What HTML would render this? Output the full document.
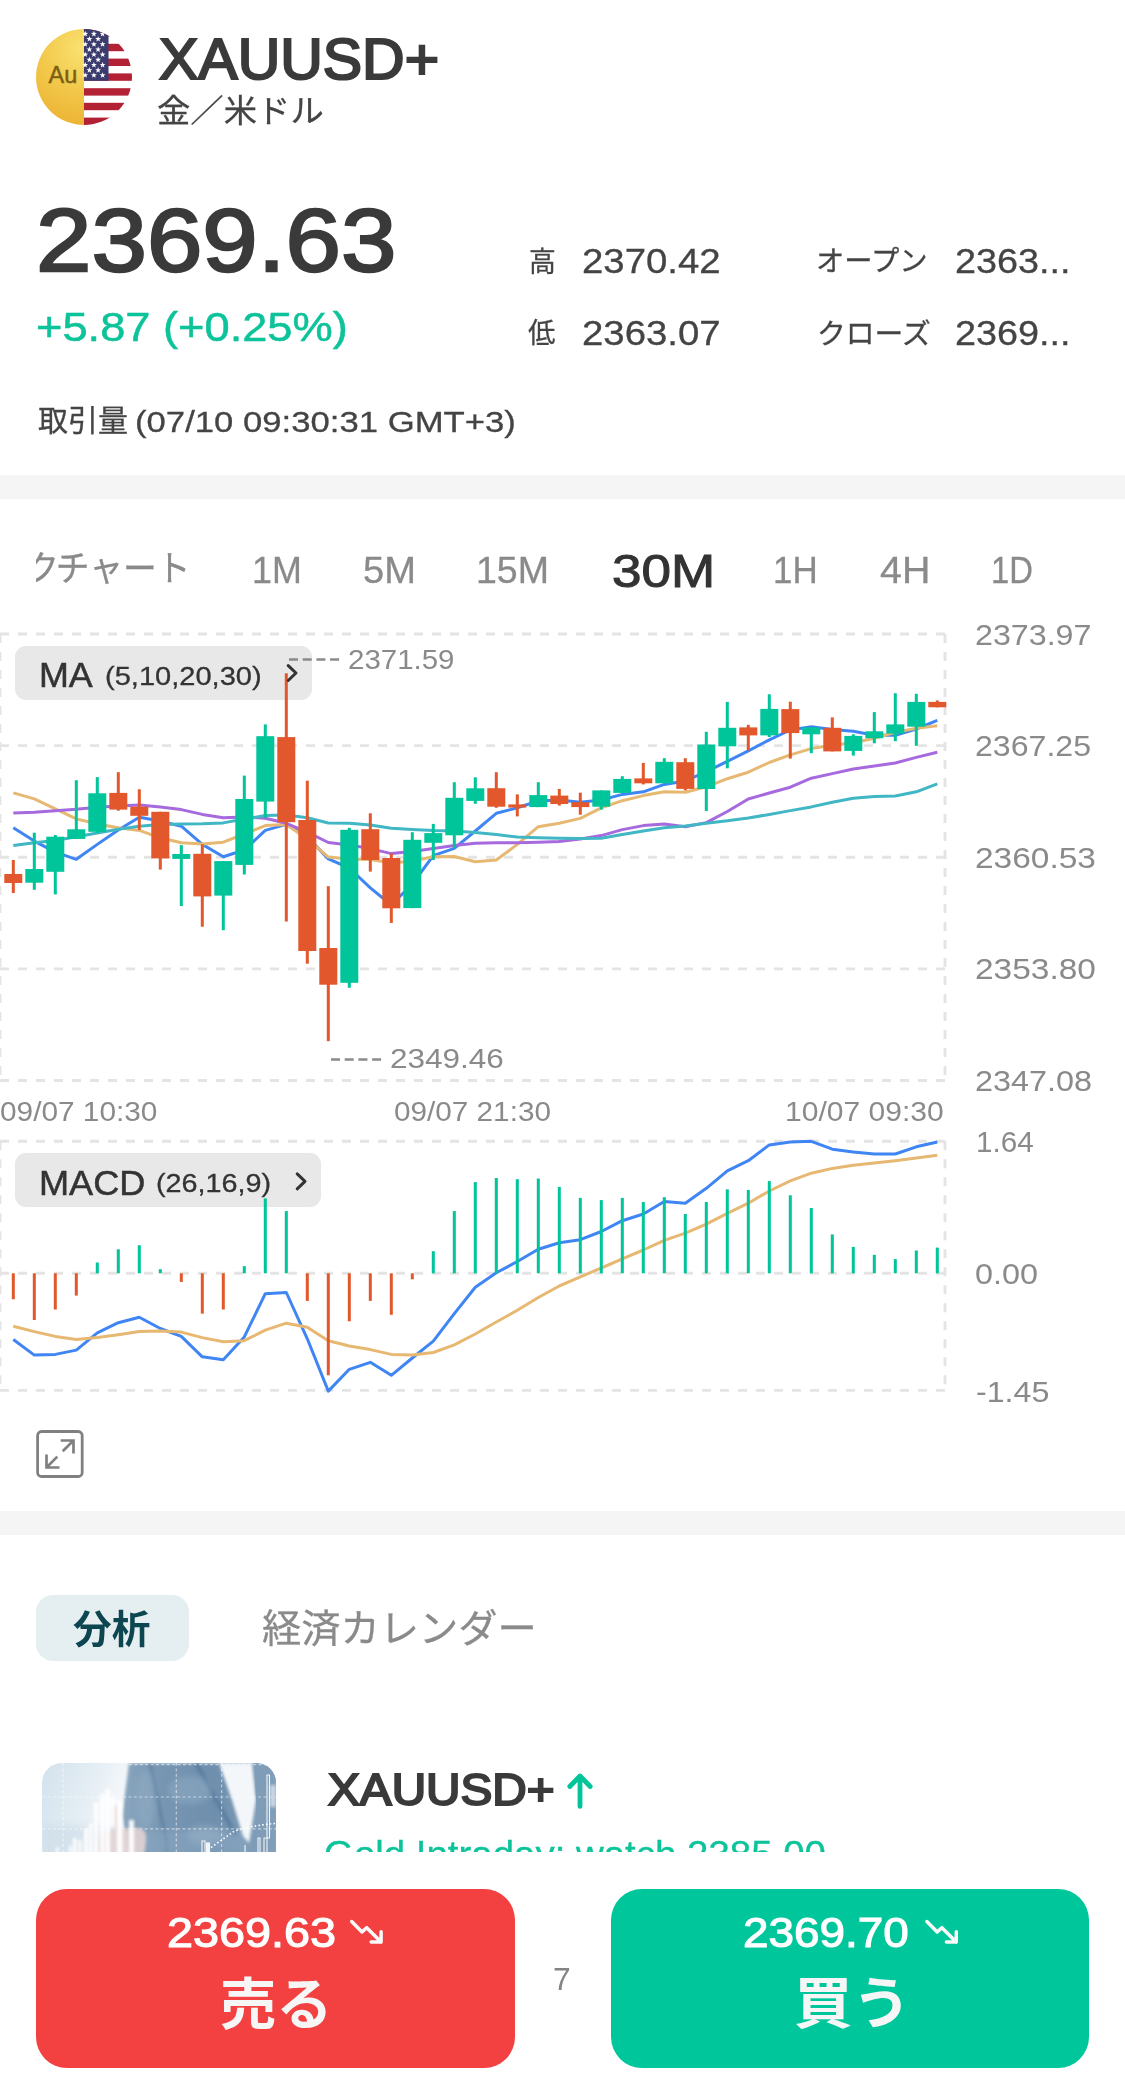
<!DOCTYPE html>
<html lang="ja">
<head>
<meta charset="utf-8">
<title>XAUUSD+ 金／米ドル</title>
<style>
html,body{margin:0;padding:0;background:#fff;}
body{width:1125px;height:2088px;position:relative;overflow:hidden;
 font-family:"Liberation Sans","Noto Sans CJK JP",sans-serif;color:#3b3b3b;-webkit-font-smoothing:antialiased;}
.t{position:absolute;white-space:nowrap;line-height:1;margin:0;transform-origin:0 0;}
.band{position:absolute;left:0;width:1125px;background:#f5f5f5;}
.chart{position:absolute;left:0;top:620px;}
.pill{position:absolute;background:#e8e8e8;border-radius:11px;}
.gray{color:#8a8a8a;}
.btn{position:absolute;top:1889px;height:179px;border-radius:31px;}
#scroll{position:absolute;left:0;top:0;width:1125px;height:1852px;overflow:hidden;}
#bottombar{position:absolute;left:0;top:1852px;width:1125px;height:236px;background:#fff;}
</style>
</head>
<body>
<div id="scroll">

<!-- header -->
<svg style="position:absolute;left:36px;top:29px" width="96" height="96" viewBox="0 0 96 96">
 <defs>
  <clipPath id="cc"><circle cx="48" cy="48" r="48"/></clipPath>
  <radialGradient id="gold" gradientUnits="userSpaceOnUse" cx="46" cy="20" r="80">
   <stop offset="0" stop-color="#f9e272"/><stop offset="0.45" stop-color="#f3cb4e"/><stop offset="1" stop-color="#ecb232"/>
  </radialGradient>
 </defs>
 <g clip-path="url(#cc)">
  <rect x="0" y="0" width="48" height="96" fill="url(#gold)"/>
  <rect x="48" y="0" width="48" height="96" fill="#fff"/>
  <g fill="#b22234">
   <rect x="48" y="0" width="48" height="7.4"/><rect x="48" y="14.8" width="48" height="7.4"/>
   <rect x="48" y="29.6" width="48" height="7.4"/><rect x="48" y="44.4" width="48" height="7.4"/>
   <rect x="48" y="59.2" width="48" height="7.4"/><rect x="48" y="73.8" width="48" height="7.4"/>
   <rect x="48" y="88.6" width="48" height="7.4"/>
  </g>
  <rect x="48" y="0" width="24.5" height="51.8" fill="#3c3b6e"/>
  <g fill="#fff" id="stars"><polygon points="49.20,1.78 49.93,3.87 52.15,3.92 50.39,5.27 51.02,7.39 49.20,6.13 47.38,7.39 48.01,5.27 46.25,3.92 48.47,3.87"/><polygon points="57.90,1.78 58.63,3.87 60.85,3.92 59.09,5.27 59.72,7.39 57.90,6.13 56.08,7.39 56.71,5.27 54.95,3.92 57.17,3.87"/><polygon points="66.60,1.78 67.33,3.87 69.55,3.92 67.79,5.27 68.42,7.39 66.60,6.13 64.78,7.39 65.41,5.27 63.65,3.92 65.87,3.87"/><polygon points="53.40,6.96 54.13,9.05 56.35,9.10 54.59,10.45 55.22,12.57 53.40,11.31 51.58,12.57 52.21,10.45 50.45,9.10 52.67,9.05"/><polygon points="62.10,6.96 62.83,9.05 65.05,9.10 63.29,10.45 63.92,12.57 62.10,11.31 60.28,12.57 60.91,10.45 59.15,9.10 61.37,9.05"/><polygon points="49.20,12.14 49.93,14.23 52.15,14.28 50.39,15.63 51.02,17.75 49.20,16.49 47.38,17.75 48.01,15.63 46.25,14.28 48.47,14.23"/><polygon points="57.90,12.14 58.63,14.23 60.85,14.28 59.09,15.63 59.72,17.75 57.90,16.49 56.08,17.75 56.71,15.63 54.95,14.28 57.17,14.23"/><polygon points="66.60,12.14 67.33,14.23 69.55,14.28 67.79,15.63 68.42,17.75 66.60,16.49 64.78,17.75 65.41,15.63 63.65,14.28 65.87,14.23"/><polygon points="53.40,17.32 54.13,19.41 56.35,19.46 54.59,20.81 55.22,22.93 53.40,21.67 51.58,22.93 52.21,20.81 50.45,19.46 52.67,19.41"/><polygon points="62.10,17.32 62.83,19.41 65.05,19.46 63.29,20.81 63.92,22.93 62.10,21.67 60.28,22.93 60.91,20.81 59.15,19.46 61.37,19.41"/><polygon points="49.20,22.50 49.93,24.59 52.15,24.64 50.39,25.99 51.02,28.11 49.20,26.85 47.38,28.11 48.01,25.99 46.25,24.64 48.47,24.59"/><polygon points="57.90,22.50 58.63,24.59 60.85,24.64 59.09,25.99 59.72,28.11 57.90,26.85 56.08,28.11 56.71,25.99 54.95,24.64 57.17,24.59"/><polygon points="66.60,22.50 67.33,24.59 69.55,24.64 67.79,25.99 68.42,28.11 66.60,26.85 64.78,28.11 65.41,25.99 63.65,24.64 65.87,24.59"/><polygon points="53.40,27.68 54.13,29.77 56.35,29.82 54.59,31.17 55.22,33.29 53.40,32.03 51.58,33.29 52.21,31.17 50.45,29.82 52.67,29.77"/><polygon points="62.10,27.68 62.83,29.77 65.05,29.82 63.29,31.17 63.92,33.29 62.10,32.03 60.28,33.29 60.91,31.17 59.15,29.82 61.37,29.77"/><polygon points="49.20,32.86 49.93,34.95 52.15,35.00 50.39,36.35 51.02,38.47 49.20,37.21 47.38,38.47 48.01,36.35 46.25,35.00 48.47,34.95"/><polygon points="57.90,32.86 58.63,34.95 60.85,35.00 59.09,36.35 59.72,38.47 57.90,37.21 56.08,38.47 56.71,36.35 54.95,35.00 57.17,34.95"/><polygon points="66.60,32.86 67.33,34.95 69.55,35.00 67.79,36.35 68.42,38.47 66.60,37.21 64.78,38.47 65.41,36.35 63.65,35.00 65.87,34.95"/><polygon points="53.40,38.04 54.13,40.13 56.35,40.18 54.59,41.53 55.22,43.65 53.40,42.39 51.58,43.65 52.21,41.53 50.45,40.18 52.67,40.13"/><polygon points="62.10,38.04 62.83,40.13 65.05,40.18 63.29,41.53 63.92,43.65 62.10,42.39 60.28,43.65 60.91,41.53 59.15,40.18 61.37,40.13"/><polygon points="49.20,43.22 49.93,45.31 52.15,45.36 50.39,46.71 51.02,48.83 49.20,47.57 47.38,48.83 48.01,46.71 46.25,45.36 48.47,45.31"/><polygon points="57.90,43.22 58.63,45.31 60.85,45.36 59.09,46.71 59.72,48.83 57.90,47.57 56.08,48.83 56.71,46.71 54.95,45.36 57.17,45.31"/><polygon points="66.60,43.22 67.33,45.31 69.55,45.36 67.79,46.71 68.42,48.83 66.60,47.57 64.78,48.83 65.41,46.71 63.65,45.36 65.87,45.31"/></g>
 </g>
 <text x="12.5" y="54" font-family="Liberation Sans, sans-serif" font-size="23.5" fill="#7d5f12" stroke="#7d5f12" stroke-width="0.5">Au</text>
</svg>

<div class="band" style="top:475px;height:24px;"></div>

<!-- timeframe tabs -->
<div id="tfclip" style="position:absolute;left:36px;top:530px;width:300px;height:80px;overflow:hidden;"><div class="t" id="tf0" style="left:-14.48px;top:22.35px;font-size:35.75px;color:#8a8a8a;-webkit-text-stroke:0.3px currentColor;transform:scaleX(0.9450);"><span style="position:relative;left:3.5px">ク</span>チャート</div></div>

<!-- chart -->
<div class="pill" style="left:15px;top:646px;width:297px;height:54px;"></div>
<div class="pill" style="left:15px;top:1153px;width:306px;height:54px;"></div>
<svg class="chart" width="1125" height="800" viewBox="0 620 1125 800">
<line x1="0" y1="634" x2="945" y2="634" stroke="#e4e4e4" stroke-width="2.9" stroke-dasharray="9,9" fill="none"/>
<line x1="0" y1="745.6" x2="945" y2="745.6" stroke="#e4e4e4" stroke-width="2.9" stroke-dasharray="9,9" fill="none"/>
<line x1="0" y1="857.2" x2="945" y2="857.2" stroke="#e4e4e4" stroke-width="2.9" stroke-dasharray="9,9" fill="none"/>
<line x1="0" y1="968.9" x2="945" y2="968.9" stroke="#e4e4e4" stroke-width="2.9" stroke-dasharray="9,9" fill="none"/>
<line x1="0" y1="1080.5" x2="945" y2="1080.5" stroke="#e4e4e4" stroke-width="2.9" stroke-dasharray="9,9" fill="none"/>
<line x1="945" y1="634" x2="945" y2="1080.5" stroke="#e4e4e4" stroke-width="2.9" stroke-dasharray="9,9" fill="none"/>
<line x1="0" y1="634" x2="0" y2="1080.5" stroke="#e4e4e4" stroke-width="2.9" stroke-dasharray="9,9" fill="none"/>
<line x1="0" y1="1141.3" x2="945" y2="1141.3" stroke="#e4e4e4" stroke-width="2.9" stroke-dasharray="9,9" fill="none"/>
<line x1="0" y1="1273.3" x2="945" y2="1273.3" stroke="#e4e4e4" stroke-width="2.9" stroke-dasharray="9,9" fill="none"/>
<line x1="0" y1="1390.4" x2="945" y2="1390.4" stroke="#e4e4e4" stroke-width="2.9" stroke-dasharray="9,9" fill="none"/>
<line x1="945" y1="1141.3" x2="945" y2="1390.4" stroke="#e4e4e4" stroke-width="2.9" stroke-dasharray="9,9" fill="none"/>
<line x1="0" y1="1141.3" x2="0" y2="1390.4" stroke="#e4e4e4" stroke-width="2.9" stroke-dasharray="9,9" fill="none"/>
<g class="ma-lines">
<polyline points="13.3,827.8 34.3,841.1 55.3,852.2 76.3,859.3 97.3,844.4 118.3,830.0 139.3,817.3 160.3,821.1 181.3,826.2 202.3,844.4 223.3,856.7 244.3,850.0 265.3,830.4 286.3,824.4 307.3,836.7 328.3,858.9 349.3,868.0 370.3,887.8 391.3,905.0 412.3,884.0 433.3,855.6 454.3,848.4 475.3,831.0 496.3,813.3 517.3,807.8 538.3,801.0 559.3,800.0 580.3,802.2 601.3,800.0 622.3,794.4 643.3,791.8 664.3,784.4 685.3,781.0 706.3,771.7 727.3,761.3 748.3,750.9 769.3,739.8 790.3,730.0 811.3,726.7 832.3,729.5 853.3,731.3 874.3,735.2 895.3,735.2 916.3,729.0 937.3,720.4" fill="none" stroke="#4085f4" stroke-width="3" stroke-linejoin="round" stroke-linecap="butt"/>
<polyline points="13.3,792.9 34.3,798.9 55.3,808.9 76.3,818.9 97.3,824.0 118.3,827.8 139.3,830.4 160.3,837.8 181.3,842.7 202.3,844.0 223.3,842.2 244.3,834.0 265.3,825.6 286.3,824.4 307.3,838.9 328.3,857.1 349.3,858.9 370.3,859.5 391.3,862.9 412.3,861.0 433.3,856.7 454.3,856.5 475.3,861.7 496.3,860.0 517.3,844.4 538.3,826.7 559.3,823.3 580.3,818.4 601.3,807.8 622.3,800.7 643.3,795.6 664.3,791.8 685.3,792.2 706.3,786.8 727.3,778.7 748.3,772.2 769.3,762.5 790.3,754.9 811.3,748.6 832.3,745.2 853.3,742.8 874.3,738.2 895.3,732.4 916.3,728.3 937.3,725.7" fill="none" stroke="#e7b872" stroke-width="3" stroke-linejoin="round" stroke-linecap="butt"/>
<polyline points="13.3,812.9 34.3,812.2 55.3,810.7 76.3,809.3 97.3,807.3 118.3,806.0 139.3,805.1 160.3,807.1 181.3,809.6 202.3,814.4 223.3,817.8 244.3,817.1 265.3,818.2 286.3,823.3 307.3,832.2 328.3,842.5 349.3,845.0 370.3,848.6 391.3,853.6 412.3,851.5 433.3,848.6 454.3,845.6 475.3,843.2 496.3,842.7 517.3,842.7 538.3,842.2 559.3,841.6 580.3,838.9 601.3,835.6 622.3,829.6 643.3,825.6 664.3,824.0 685.3,826.7 706.3,822.6 727.3,811.5 748.3,799.0 769.3,793.0 790.3,787.2 811.3,778.2 832.3,773.6 853.3,769.0 874.3,766.0 895.3,763.0 916.3,757.4 937.3,752.3" fill="none" stroke="#a66ade" stroke-width="3" stroke-linejoin="round" stroke-linecap="butt"/>
<polyline points="13.3,845.6 34.3,842.7 55.3,840.4 76.3,836.7 97.3,832.9 118.3,829.3 139.3,826.2 160.3,824.4 181.3,824.0 202.3,823.8 223.3,822.9 244.3,819.0 265.3,815.6 286.3,815.0 307.3,817.8 328.3,823.0 349.3,823.2 370.3,825.0 391.3,828.2 412.3,829.5 433.3,830.5 454.3,831.0 475.3,832.5 496.3,834.6 517.3,837.1 538.3,837.8 559.3,838.2 580.3,838.4 601.3,838.2 622.3,834.4 643.3,831.1 664.3,827.8 685.3,826.0 706.3,823.3 727.3,820.7 748.3,818.0 769.3,814.5 790.3,810.6 811.3,806.9 832.3,802.2 853.3,798.3 874.3,796.5 895.3,796.0 916.3,791.8 937.3,783.8" fill="none" stroke="#41b6c5" stroke-width="3" stroke-linejoin="round" stroke-linecap="butt"/>
</g>
<g class="candles">
<rect x="11.8" y="860.0" width="3" height="33.0" fill="#e2572b"/>
<rect x="4.3" y="874.0" width="18.0" height="9.0" fill="#e2572b"/>
<rect x="32.8" y="832.7" width="3" height="57.1" fill="#00c49a"/>
<rect x="25.3" y="869.0" width="18.0" height="13.7" fill="#00c49a"/>
<rect x="53.8" y="835.0" width="3" height="59.4" fill="#00c49a"/>
<rect x="46.3" y="836.7" width="18.0" height="35.1" fill="#00c49a"/>
<rect x="74.8" y="780.2" width="3" height="58.7" fill="#00c49a"/>
<rect x="67.3" y="829.3" width="18.0" height="9.6" fill="#00c49a"/>
<rect x="95.8" y="777.1" width="3" height="55.9" fill="#00c49a"/>
<rect x="88.3" y="793.3" width="18.0" height="38.5" fill="#00c49a"/>
<rect x="116.8" y="772.2" width="3" height="38.5" fill="#e2572b"/>
<rect x="109.3" y="792.9" width="18.0" height="16.7" fill="#e2572b"/>
<rect x="137.8" y="789.3" width="3" height="40.7" fill="#e2572b"/>
<rect x="130.3" y="806.7" width="18.0" height="9.1" fill="#e2572b"/>
<rect x="158.8" y="811.8" width="3" height="57.8" fill="#e2572b"/>
<rect x="151.3" y="811.8" width="18.0" height="46.6" fill="#e2572b"/>
<rect x="179.8" y="845.1" width="3" height="60.9" fill="#00c49a"/>
<rect x="172.3" y="854.0" width="18.0" height="4.9" fill="#00c49a"/>
<rect x="200.8" y="844.4" width="3" height="82.3" fill="#e2572b"/>
<rect x="193.3" y="853.8" width="18.0" height="42.6" fill="#e2572b"/>
<rect x="221.8" y="861.1" width="3" height="69.1" fill="#00c49a"/>
<rect x="214.3" y="861.1" width="18.0" height="34.5" fill="#00c49a"/>
<rect x="242.8" y="775.6" width="3" height="98.9" fill="#00c49a"/>
<rect x="235.3" y="799.0" width="18.0" height="65.9" fill="#00c49a"/>
<rect x="263.8" y="724.4" width="3" height="93.4" fill="#00c49a"/>
<rect x="256.3" y="736.2" width="18.0" height="65.4" fill="#00c49a"/>
<rect x="284.8" y="673.3" width="3" height="248.2" fill="#e2572b"/>
<rect x="277.3" y="737.1" width="18.0" height="85.1" fill="#e2572b"/>
<rect x="305.8" y="780.7" width="3" height="183.0" fill="#e2572b"/>
<rect x="298.3" y="820.0" width="18.0" height="131.0" fill="#e2572b"/>
<rect x="326.8" y="886.2" width="3" height="155.0" fill="#e2572b"/>
<rect x="319.3" y="948.0" width="18.0" height="36.7" fill="#e2572b"/>
<rect x="347.8" y="827.8" width="3" height="160.0" fill="#00c49a"/>
<rect x="340.3" y="829.8" width="18.0" height="153.0" fill="#00c49a"/>
<rect x="368.8" y="813.3" width="3" height="58.3" fill="#e2572b"/>
<rect x="361.3" y="829.2" width="18.0" height="30.8" fill="#e2572b"/>
<rect x="389.8" y="853.5" width="3" height="69.4" fill="#e2572b"/>
<rect x="382.3" y="858.0" width="18.0" height="50.3" fill="#e2572b"/>
<rect x="410.8" y="832.2" width="3" height="75.9" fill="#00c49a"/>
<rect x="403.3" y="839.8" width="18.0" height="68.3" fill="#00c49a"/>
<rect x="431.8" y="823.9" width="3" height="36.1" fill="#00c49a"/>
<rect x="424.3" y="833.1" width="18.0" height="9.7" fill="#00c49a"/>
<rect x="452.8" y="782.2" width="3" height="66.2" fill="#00c49a"/>
<rect x="445.3" y="797.8" width="18.0" height="37.5" fill="#00c49a"/>
<rect x="473.8" y="777.3" width="3" height="26.5" fill="#00c49a"/>
<rect x="466.3" y="788.3" width="18.0" height="12.6" fill="#00c49a"/>
<rect x="494.8" y="772.2" width="3" height="35.6" fill="#e2572b"/>
<rect x="487.3" y="788.2" width="18.0" height="18.5" fill="#e2572b"/>
<rect x="515.8" y="794.4" width="3" height="22.0" fill="#e2572b"/>
<rect x="508.3" y="804.4" width="18.0" height="3.2" fill="#e2572b"/>
<rect x="536.8" y="782.2" width="3" height="24.9" fill="#00c49a"/>
<rect x="529.3" y="795.1" width="18.0" height="12.0" fill="#00c49a"/>
<rect x="557.8" y="788.9" width="3" height="16.7" fill="#e2572b"/>
<rect x="550.3" y="795.6" width="18.0" height="8.4" fill="#e2572b"/>
<rect x="578.8" y="792.7" width="3" height="22.0" fill="#e2572b"/>
<rect x="571.3" y="802.2" width="18.0" height="4.9" fill="#e2572b"/>
<rect x="599.8" y="790.4" width="3" height="19.2" fill="#00c49a"/>
<rect x="592.3" y="790.4" width="18.0" height="16.3" fill="#00c49a"/>
<rect x="620.8" y="776.2" width="3" height="16.7" fill="#00c49a"/>
<rect x="613.3" y="778.9" width="18.0" height="14.0" fill="#00c49a"/>
<rect x="641.8" y="762.9" width="3" height="21.5" fill="#e2572b"/>
<rect x="634.3" y="778.4" width="18.0" height="4.9" fill="#e2572b"/>
<rect x="662.8" y="758.2" width="3" height="25.1" fill="#00c49a"/>
<rect x="655.3" y="761.8" width="18.0" height="21.5" fill="#00c49a"/>
<rect x="683.8" y="758.2" width="3" height="32.2" fill="#e2572b"/>
<rect x="676.3" y="762.2" width="18.0" height="26.7" fill="#e2572b"/>
<rect x="704.8" y="731.8" width="3" height="79.2" fill="#00c49a"/>
<rect x="697.3" y="744.5" width="18.0" height="44.5" fill="#00c49a"/>
<rect x="725.8" y="701.9" width="3" height="66.4" fill="#00c49a"/>
<rect x="718.3" y="727.8" width="18.0" height="18.5" fill="#00c49a"/>
<rect x="746.8" y="724.8" width="3" height="25.7" fill="#e2572b"/>
<rect x="739.3" y="727.4" width="18.0" height="8.0" fill="#e2572b"/>
<rect x="767.8" y="694.3" width="3" height="42.7" fill="#00c49a"/>
<rect x="760.3" y="708.9" width="18.0" height="26.5" fill="#00c49a"/>
<rect x="788.8" y="701.7" width="3" height="56.9" fill="#e2572b"/>
<rect x="781.3" y="709.1" width="18.0" height="24.0" fill="#e2572b"/>
<rect x="809.8" y="727.4" width="3" height="25.8" fill="#00c49a"/>
<rect x="802.3" y="727.4" width="18.0" height="6.9" fill="#00c49a"/>
<rect x="830.8" y="717.4" width="3" height="34.0" fill="#e2572b"/>
<rect x="823.3" y="727.8" width="18.0" height="23.6" fill="#e2572b"/>
<rect x="851.8" y="734.3" width="3" height="21.3" fill="#00c49a"/>
<rect x="844.3" y="735.9" width="18.0" height="15.0" fill="#00c49a"/>
<rect x="872.8" y="712.1" width="3" height="31.2" fill="#00c49a"/>
<rect x="865.3" y="731.3" width="18.0" height="6.9" fill="#00c49a"/>
<rect x="893.8" y="693.2" width="3" height="48.0" fill="#00c49a"/>
<rect x="886.3" y="724.4" width="18.0" height="9.2" fill="#00c49a"/>
<rect x="914.8" y="693.8" width="3" height="52.0" fill="#00c49a"/>
<rect x="907.3" y="701.9" width="18.0" height="24.8" fill="#00c49a"/>
<rect x="935.8" y="700.5" width="3" height="6.8" fill="#e2572b"/>
<rect x="928.3" y="701.9" width="18.0" height="5.4" fill="#e2572b"/>
</g>
<g class="macd">
<polyline points="13.3,1339.5 34.3,1355.1 55.3,1354.4 76.3,1350.1 97.3,1332.8 118.3,1322.7 139.3,1317.2 160.3,1328.5 181.3,1336.4 202.3,1356.8 223.3,1359.7 244.3,1336.9 265.3,1293.7 286.3,1292.5 307.3,1338.8 328.3,1391.1 349.3,1369.3 370.3,1362.3 391.3,1375.3 412.3,1358.0 433.3,1341.2 454.3,1313.6 475.3,1287.2 496.3,1272.8 517.3,1261.5 538.3,1249.3 559.3,1242.8 580.3,1239.7 601.3,1231.5 622.3,1220.7 643.3,1214.0 664.3,1201.5 685.3,1203.2 706.3,1188.3 727.3,1170.8 748.3,1160.7 769.3,1144.9 790.3,1142.0 811.3,1141.3 832.3,1149.2 853.3,1152.1 874.3,1154.0 895.3,1154.0 916.3,1146.8 937.3,1142.0" fill="none" stroke="#4085f4" stroke-width="3" stroke-linejoin="round" stroke-linecap="butt"/>
<polyline points="13.3,1326.3 34.3,1331.6 55.3,1336.4 76.3,1339.5 97.3,1337.6 118.3,1334.7 139.3,1331.6 160.3,1330.9 181.3,1332.1 202.3,1337.6 223.3,1341.7 244.3,1340.7 265.3,1330.2 286.3,1323.2 307.3,1327.3 328.3,1340.7 349.3,1346.0 370.3,1349.6 391.3,1354.4 412.3,1355.1 433.3,1352.5 454.3,1344.8 475.3,1334.0 496.3,1322.0 517.3,1310.3 538.3,1297.5 559.3,1286.0 580.3,1276.9 601.3,1268.0 622.3,1258.9 643.3,1250.0 664.3,1240.4 685.3,1233.2 706.3,1224.1 727.3,1213.3 748.3,1203.2 769.3,1191.0 790.3,1180.9 811.3,1173.2 832.3,1168.4 853.3,1165.3 874.3,1162.9 895.3,1160.7 916.3,1158.1 937.3,1155.2" fill="none" stroke="#e7b872" stroke-width="3" stroke-linejoin="round" stroke-linecap="butt"/>
<rect x="11.8" y="1273.3" width="3" height="25.9" fill="#e2572b"/>
<rect x="32.8" y="1273.3" width="3" height="46.7" fill="#e2572b"/>
<rect x="53.8" y="1273.3" width="3" height="36.2" fill="#e2572b"/>
<rect x="74.8" y="1273.3" width="3" height="22.3" fill="#e2572b"/>
<rect x="95.8" y="1262.5" width="3" height="10.8" fill="#00c49a"/>
<rect x="116.8" y="1249.3" width="3" height="24.0" fill="#00c49a"/>
<rect x="137.8" y="1245.2" width="3" height="28.1" fill="#00c49a"/>
<rect x="158.8" y="1269.2" width="3" height="4.1" fill="#00c49a"/>
<rect x="179.8" y="1273.3" width="3" height="8.6" fill="#e2572b"/>
<rect x="200.8" y="1273.3" width="3" height="40.3" fill="#e2572b"/>
<rect x="221.8" y="1273.3" width="3" height="36.2" fill="#e2572b"/>
<rect x="242.8" y="1266.1" width="3" height="7.2" fill="#00c49a"/>
<rect x="263.8" y="1198.4" width="3" height="74.9" fill="#00c49a"/>
<rect x="284.8" y="1211.1" width="3" height="62.2" fill="#00c49a"/>
<rect x="305.8" y="1273.3" width="3" height="27.6" fill="#e2572b"/>
<rect x="326.8" y="1273.3" width="3" height="102.0" fill="#e2572b"/>
<rect x="347.8" y="1273.3" width="3" height="48.0" fill="#e2572b"/>
<rect x="368.8" y="1273.3" width="3" height="27.6" fill="#e2572b"/>
<rect x="389.8" y="1273.3" width="3" height="41.5" fill="#e2572b"/>
<rect x="410.8" y="1273.3" width="3" height="6.0" fill="#e2572b"/>
<rect x="431.8" y="1251.2" width="3" height="22.1" fill="#00c49a"/>
<rect x="452.8" y="1211.1" width="3" height="62.2" fill="#00c49a"/>
<rect x="473.8" y="1182.1" width="3" height="91.2" fill="#00c49a"/>
<rect x="494.8" y="1178.0" width="3" height="95.3" fill="#00c49a"/>
<rect x="515.8" y="1179.2" width="3" height="94.1" fill="#00c49a"/>
<rect x="536.8" y="1178.5" width="3" height="94.8" fill="#00c49a"/>
<rect x="557.8" y="1186.9" width="3" height="86.4" fill="#00c49a"/>
<rect x="578.8" y="1197.9" width="3" height="75.4" fill="#00c49a"/>
<rect x="599.8" y="1200.1" width="3" height="73.2" fill="#00c49a"/>
<rect x="620.8" y="1197.9" width="3" height="75.4" fill="#00c49a"/>
<rect x="641.8" y="1202.0" width="3" height="71.3" fill="#00c49a"/>
<rect x="662.8" y="1197.2" width="3" height="76.1" fill="#00c49a"/>
<rect x="683.8" y="1214.0" width="3" height="59.3" fill="#00c49a"/>
<rect x="704.8" y="1202.0" width="3" height="71.3" fill="#00c49a"/>
<rect x="725.8" y="1189.3" width="3" height="84.0" fill="#00c49a"/>
<rect x="746.8" y="1190.0" width="3" height="83.3" fill="#00c49a"/>
<rect x="767.8" y="1181.1" width="3" height="92.2" fill="#00c49a"/>
<rect x="788.8" y="1195.3" width="3" height="78.0" fill="#00c49a"/>
<rect x="809.8" y="1208.0" width="3" height="65.3" fill="#00c49a"/>
<rect x="830.8" y="1234.4" width="3" height="38.9" fill="#00c49a"/>
<rect x="851.8" y="1246.9" width="3" height="26.4" fill="#00c49a"/>
<rect x="872.8" y="1254.8" width="3" height="18.5" fill="#00c49a"/>
<rect x="893.8" y="1259.1" width="3" height="14.2" fill="#00c49a"/>
<rect x="914.8" y="1250.5" width="3" height="22.8" fill="#00c49a"/>
<rect x="935.8" y="1247.6" width="3" height="25.7" fill="#00c49a"/>
</g>
<line x1="289" y1="659.5" x2="340" y2="659.5" stroke="#8a8a8a" stroke-width="2.4" stroke-dasharray="9,4.7"/>
<line x1="331" y1="1059.5" x2="382" y2="1059.5" stroke="#8a8a8a" stroke-width="2.4" stroke-dasharray="9,4.7"/>
</svg>




<div class="band" style="top:1511px;height:24px;"></div>

<!-- section tabs -->
<div style="position:absolute;left:36px;top:1595px;width:153px;height:66px;border-radius:17px;background:#e5eef0;"></div>

<!-- news card -->
<svg id="thumb" style="position:absolute;left:42px;top:1763px" width="234" height="150" viewBox="42 1763 234 150">
 <defs>
  <clipPath id="tc"><rect x="42" y="1763" width="234" height="150" rx="20"/></clipPath>
  <linearGradient id="tbg" x1="0" y1="0" x2="1" y2="0.25">
   <stop offset="0" stop-color="#d3e2ed"/><stop offset="0.2" stop-color="#e2ecf3"/><stop offset="0.36" stop-color="#f3f7fa"/><stop offset="1" stop-color="#e8eff5"/>
  </linearGradient>
  <linearGradient id="suit" x1="0" y1="0" x2="1" y2="0">
   <stop offset="0" stop-color="#8aa6bf"/><stop offset="0.25" stop-color="#7796b2"/><stop offset="0.6" stop-color="#6e8fad"/><stop offset="1" stop-color="#86a3bd"/>
  </linearGradient>
  <filter id="bl" x="-20%" y="-20%" width="140%" height="140%"><feGaussianBlur stdDeviation="1.6"/></filter>
  <filter id="bl2" x="-20%" y="-20%" width="140%" height="140%"><feGaussianBlur stdDeviation="3"/></filter>
 </defs>
 <g clip-path="url(#tc)">
  <rect x="42" y="1763" width="234" height="150" fill="url(#tbg)"/>
  <rect x="42" y="1825" width="90" height="40" fill="#c9d9e6" opacity=".55" filter="url(#bl2)"/>
  <path d="M129 1763 L276 1763 L276 1913 L140 1913 L122 1816 Z" fill="url(#suit)" filter="url(#bl)"/>
  <path d="M150 1763 L166 1840 L170 1913" stroke="#587b9c" stroke-width="3" fill="none" opacity=".7" filter="url(#bl)"/>
  <path d="M196 1763 L236 1836" stroke="#52779a" stroke-width="4" fill="none" opacity=".7" filter="url(#bl)"/>
  <rect x="129" y="1830" width="120" height="25" fill="#8eaac3" opacity=".5" filter="url(#bl2)"/>
  <ellipse cx="190" cy="1790" rx="22" ry="14" fill="#90abc4" opacity=".55" filter="url(#bl2)"/>
  <ellipse cx="146" cy="1800" rx="10" ry="30" fill="#93aec6" opacity=".5" filter="url(#bl2)"/>
  <ellipse cx="205" cy="1835" rx="18" ry="10" fill="#9ab3c9" opacity=".5" filter="url(#bl2)"/>
  <path d="M219 1763 L252 1763 L256 1800 L249 1843 L243 1836 L232 1800 Z" fill="#f4f7fa" filter="url(#bl)"/>
  <path d="M254 1763 L276 1763 L276 1860 L258 1860 L256 1800 Z" fill="#7f9cb8" opacity=".9"/>
  <g stroke="#fff" stroke-width="1.2" stroke-dasharray="3,2.4" opacity=".55" fill="none">
   <path d="M129 1764.7 H276 M42 1797 H276 M42 1828.8 H276 M176.3 1763 V1860 M221.6 1763 V1860 M63 1763 V1860"/>
  </g>
  <path d="M211 1847.5 L234.5 1831 Q255 1825 275 1823.5" stroke="#fff" stroke-width="1.6" stroke-dasharray="1.6,2.2" fill="none"/>
  <path d="M97 1854 L99 1836 L112 1829 L140 1828 Q147 1830 146 1842 L144 1856 Z" fill="#e3d3d4" opacity=".9" filter="url(#bl)"/>
  <path d="M112 1808 L117 1803 L120 1826 L113 1828 Z" fill="#e0c8c8" opacity=".8" filter="url(#bl)"/>
  <g fill="#fff" filter="url(#bl)" opacity=".95">
   <rect x="94" y="1802" width="4" height="55"/><rect x="100" y="1794" width="4.5" height="60"/><rect x="105.5" y="1789" width="4.5" height="65"/>
   <rect x="111" y="1797" width="4" height="30"/><rect x="117" y="1800" width="5.5" height="60"/><rect x="129" y="1820" width="5" height="40"/>
   <rect x="84" y="1828" width="4" height="30"/><rect x="89" y="1823" width="3.5" height="35"/><rect x="73" y="1838" width="3.5" height="20"/><rect x="78.5" y="1840" width="3" height="20"/>
   <rect x="56" y="1847" width="2.5" height="10"/><rect x="69" y="1846" width="2.5" height="10"/>
  </g>
  <g fill="none" stroke="#fff" stroke-width="1.1" opacity=".9">
   <path d="M202 1852 V1841 H205 V1852 M267 1852 V1775 H269.5 V1838 H264 V1852 M258 1852 V1838 H260 V1852 M245 1852 V1845"/>
   <rect x="206.5" y="1843" width="3" height="10" fill="#fff"/>
  </g>
  <rect x="270" y="1785" width="6" height="22" fill="#e9eff5" opacity=".7" filter="url(#bl)"/>
 </g>
</svg>

<svg id="icons" style="position:absolute;left:0;top:0;pointer-events:none" width="1125" height="1852" viewBox="0 0 1125 1852" fill="none">
 <g stroke="#333" stroke-width="3" stroke-linecap="round" stroke-linejoin="round">
  <path d="M288.2 665.6 L296 673 L288.2 680.5"/>
  <path d="M297.2 1173.8 L305 1181.3 L297.2 1188.8"/>
 </g>
 <g stroke="#808080" stroke-width="2.8">
  <rect x="37.6" y="1431.5" width="44.6" height="45" rx="4"/>
  <path d="M60.7 1440.5 H73.5 V1453.4 M73.5 1440.5 L62.7 1451.3" stroke-width="2.7" stroke-linejoin="miter"/>
  <path d="M46.5 1454.5 V1467.5 H59.5 M46.5 1467.5 L57.3 1456.6" stroke-width="2.7" stroke-linejoin="miter"/>
 </g>
 <path d="M569.8 1786.5 L580 1776 L590.2 1786.5 M580 1776.5 V1806.4" stroke="#00c49a" stroke-width="4.8" stroke-linecap="round" stroke-linejoin="round"/>
</svg>
<div class="t" id="title" style="left:159.27px;top:30.85px;font-size:57.25px;color:#3a3a3a;-webkit-text-stroke:2.2px currentColor;transform:scaleX(1.0297);">XAUUSD+</div>
<div class="t" id="subtitle" style="left:156.56px;top:94.72px;font-size:32.0px;color:#444;-webkit-text-stroke:0.3px currentColor;transform:scaleX(1.0422);">金／米ドル</div>
<div class="t" id="price" style="left:35.96px;top:195.70px;font-size:89.0px;color:#3a3a3a;-webkit-text-stroke:2.3px currentColor;transform:scaleX(1.1202);">2369.63</div>
<div class="t" id="chg" style="left:35.87px;top:307.17px;font-size:41.0px;color:#0cc39a;-webkit-text-stroke:0.5px currentColor;transform:scaleX(1.1031);">+5.87 (+0.25%)</div>
<div class="t" id="hi_l" style="left:528.59px;top:248.12px;font-size:28.5px;color:#444;-webkit-text-stroke:0.3px currentColor;transform:scaleX(0.9412);">高</div>
<div class="t" id="hi_v" style="left:581.69px;top:244.07px;font-size:35.75px;color:#444;-webkit-text-stroke:0.3px currentColor;transform:scaleX(1.0733);">2370.42</div>
<div class="t" id="lo_l" style="left:528.46px;top:319.40px;font-size:28.5px;color:#444;-webkit-text-stroke:0.3px currentColor;transform:scaleX(0.9586);">低</div>
<div class="t" id="lo_v" style="left:581.69px;top:316.43px;font-size:35.75px;color:#444;-webkit-text-stroke:0.3px currentColor;transform:scaleX(1.0733);">2363.07</div>
<div class="t" id="op_l" style="left:816.47px;top:247.38px;font-size:28.5px;color:#444;-webkit-text-stroke:0.3px currentColor;transform:scaleX(0.9926);">オープン</div>
<div class="t" id="op_v" style="left:955.21px;top:244.07px;font-size:35.75px;color:#444;-webkit-text-stroke:0.3px currentColor;transform:scaleX(1.0568);">2363...</div>
<div class="t" id="cl_l" style="left:817.22px;top:320.38px;font-size:28.5px;color:#444;-webkit-text-stroke:0.3px currentColor;transform:scaleX(1.0106);">クローズ</div>
<div class="t" id="cl_v" style="left:955.21px;top:316.43px;font-size:35.75px;color:#444;-webkit-text-stroke:0.3px currentColor;transform:scaleX(1.0568);">2369...</div>
<div class="t" id="vol_a" style="left:37.59px;top:407.40px;font-size:29.25px;color:#444;-webkit-text-stroke:0.3px currentColor;transform:scaleX(1.0261);">取引量</div>
<div class="t" id="vol_b" style="left:134.57px;top:406.92px;font-size:30.0px;color:#444;-webkit-text-stroke:0.3px currentColor;transform:scaleX(1.1565);">(07/10 09:30:31 GMT+3)</div>
<div class="t" id="tf1" style="left:251.54px;top:553.35px;font-size:36.5px;color:#8a8a8a;-webkit-text-stroke:0.3px currentColor;transform:scaleX(0.9824);">1M</div>
<div class="t" id="tf2" style="left:363.10px;top:553.22px;font-size:36.5px;color:#8a8a8a;-webkit-text-stroke:0.3px currentColor;transform:scaleX(1.0439);">5M</div>
<div class="t" id="tf3" style="left:476.43px;top:553.22px;font-size:36.5px;color:#8a8a8a;-webkit-text-stroke:0.3px currentColor;transform:scaleX(1.0281);">15M</div>
<div class="t" id="tf4" style="left:612.07px;top:547.55px;font-size:46.5px;color:#333;-webkit-text-stroke:1px currentColor;transform:scaleX(1.1407);">30M</div>
<div class="t" id="tf5" style="left:773.21px;top:553.40px;font-size:36.5px;color:#8a8a8a;-webkit-text-stroke:0.3px currentColor;transform:scaleX(0.9566);">1H</div>
<div class="t" id="tf6" style="left:880.46px;top:553.40px;font-size:36.5px;color:#8a8a8a;-webkit-text-stroke:0.3px currentColor;transform:scaleX(1.0782);">4H</div>
<div class="t" id="tf7" style="left:990.95px;top:553.40px;font-size:36.5px;color:#8a8a8a;-webkit-text-stroke:0.3px currentColor;transform:scaleX(0.8982);">1D</div>
<div class="t" id="ma_a" style="left:38.82px;top:658.45px;font-size:34.75px;color:#333;-webkit-text-stroke:0.5px currentColor;transform:scaleX(1.0320);">MA</div>
<div class="t" id="ma_b" style="left:105.26px;top:663.92px;font-size:25.25px;color:#333;-webkit-text-stroke:0.3px currentColor;transform:scaleX(1.1506);">(5,10,20,30)</div>
<div class="t" id="macd_a" style="left:38.80px;top:1166.47px;font-size:34.75px;color:#333;-webkit-text-stroke:0.5px currentColor;transform:scaleX(1.0396);">MACD</div>
<div class="t" id="macd_b" style="left:156.48px;top:1170.92px;font-size:25.25px;color:#333;-webkit-text-stroke:0.3px currentColor;transform:scaleX(1.1391);">(26,16,9)</div>
<div class="t" id="hi_tag" style="left:348.18px;top:646.00px;font-size:28.0px;color:#8a8a8a;transform:scaleX(1.0522);">2371.59</div>
<div class="t" id="lo_tag" style="left:389.69px;top:1045.45px;font-size:28.0px;color:#8a8a8a;transform:scaleX(1.1251);">2349.46</div>
<div class="t" id="ax0" style="left:975.29px;top:620.20px;font-size:30.0px;color:#8a8a8a;transform:scaleX(1.0739);">2373.97</div>
<div class="t" id="ax1" style="left:975.30px;top:730.65px;font-size:30.0px;color:#8a8a8a;transform:scaleX(1.0695);">2367.25</div>
<div class="t" id="ax2" style="left:975.23px;top:843.35px;font-size:30.0px;color:#8a8a8a;transform:scaleX(1.1149);">2360.53</div>
<div class="t" id="ax3" style="left:975.23px;top:953.55px;font-size:30.0px;color:#8a8a8a;transform:scaleX(1.1149);">2353.80</div>
<div class="t" id="ax4" style="left:975.28px;top:1065.75px;font-size:30.0px;color:#8a8a8a;transform:scaleX(1.0790);">2347.08</div>
<div class="t" id="mx0" style="left:976.08px;top:1127.30px;font-size:30.0px;color:#8a8a8a;transform:scaleX(0.9882);">1.64</div>
<div class="t" id="mx1" style="left:975.32px;top:1259.05px;font-size:30.0px;color:#8a8a8a;transform:scaleX(1.0791);">0.00</div>
<div class="t" id="mx2" style="left:975.86px;top:1376.72px;font-size:30.0px;color:#8a8a8a;transform:scaleX(1.0727);">-1.45</div>
<div class="t" id="tm0" style="left:0.21px;top:1098.22px;font-size:27.25px;color:#8a8a8a;transform:scaleX(1.0937);">09/07 10:30</div>
<div class="t" id="tm1" style="left:393.61px;top:1098.22px;font-size:27.25px;color:#8a8a8a;transform:scaleX(1.0901);">09/07 21:30</div>
<div class="t" id="tm2" style="left:785.19px;top:1098.22px;font-size:27.25px;color:#8a8a8a;transform:scaleX(1.1028);">10/07 09:30</div>
<div class="t" id="tabA" style="left:73.29px;top:1611.38px;font-size:38.25px;color:#0c4650;font-weight:bold;transform:scaleX(1.0107);">分析</div>
<div class="t" id="tabB" style="left:261.64px;top:1609.62px;font-size:38.75px;color:#8a8a8a;-webkit-text-stroke:0.3px currentColor;transform:scaleX(1.0129);">経済カレンダー</div>
<div class="t" id="ntitle" style="left:328.47px;top:1766.80px;font-size:44.75px;color:#3a3a3a;-webkit-text-stroke:2.1px currentColor;transform:scaleX(1.0659);">XAUUSD+</div>
<div class="t" id="nsub" style="left:324.32px;top:1836.75px;font-size:36.5px;color:#0cc39a;-webkit-text-stroke:0.3px currentColor;transform:scaleX(1.0526);">Gold Intraday: watch 2385.00</div>
</div>

<div id="bottombar"></div>
<div class="btn" style="left:36px;width:479px;background:#f34041;"></div>
<div class="btn" style="left:611px;width:478px;background:#00c69c;"></div>

<svg id="icons2" style="position:absolute;left:0;top:1880px;pointer-events:none" width="1125" height="208" viewBox="0 1880 1125 208" fill="none">
 <g stroke="#fafafa" stroke-width="3.5" stroke-linecap="round" stroke-linejoin="round">
  <path d="M351.7 1921.5 L362.0 1931.9 L366.7 1927.7 L381.1 1942.1 M381.1 1931.7 V1942.1 H371.2"/>
  <path d="M926.9 1921.5 L937.2 1931.9 L941.9 1927.7 L956.3 1942.1 M956.3 1931.7 V1942.1 H946.4"/>
 </g>
</svg>
<div class="t" id="sellp" style="left:167.43px;top:1911.80px;font-size:42.0px;color:#fff;-webkit-text-stroke:1.1px currentColor;transform:scaleX(1.1128);">2369.63</div>
<div class="t" id="buyp" style="left:742.66px;top:1911.80px;font-size:42.0px;color:#fff;-webkit-text-stroke:1.1px currentColor;transform:scaleX(1.0915);">2369.70</div>
<div class="t" id="sell" style="left:219.83px;top:1977.75px;font-size:55.5px;color:#f6f6f6;font-weight:bold;transform:scaleX(1.0127);">売る</div>
<div class="t" id="buy" style="left:793.79px;top:1976.53px;font-size:55.5px;color:#f6f6f6;font-weight:bold;transform:scaleX(1.0533);">買う</div>
<div class="t" id="spread" style="left:553.34px;top:1963.75px;font-size:30.5px;color:#848484;transform:scaleX(1.0429);">7</div>
</body>
</html>
